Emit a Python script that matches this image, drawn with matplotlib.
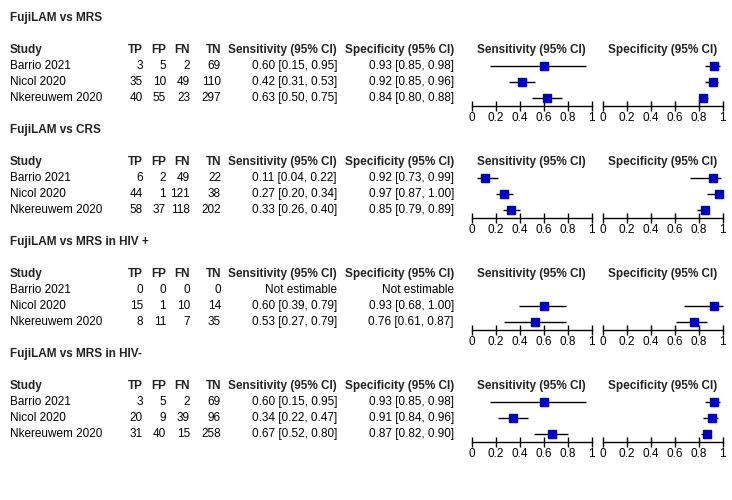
import matplotlib
matplotlib.use("Agg")
import matplotlib.pyplot as plt

plt.rcParams['font.family'] = ['Liberation Sans', 'DejaVu Sans']

# panel titles
panels = ["FujiLAM vs MRS", "FujiLAM vs CRS", "FujiLAM vs MRS in HIV +", "FujiLAM vs MRS in HIV-"]
studies = ["Barrio 2021", "Nicol 2020", "Nkereuwem 2020"]

# 2x2 counts per panel: rows = studies
tp = [[3, 35, 40], [6, 44, 58], [0, 15, 8], [3, 20, 31]]
fp = [[5, 10, 55], [2, 1, 37], [0, 1, 11], [5, 9, 40]]
fn = [[2, 49, 23], [49, 121, 118], [0, 10, 7], [2, 39, 15]]
tn = [[69, 110, 297], [22, 38, 202], [0, 14, 35], [69, 96, 258]]

# sensitivity estimates and 95% CI (None = not estimable)
sens = [[0.60, 0.42, 0.63], [0.11, 0.27, 0.33], [None, 0.60, 0.53], [0.60, 0.34, 0.67]]
sens_lo = [[0.15, 0.31, 0.50], [0.04, 0.20, 0.26], [None, 0.39, 0.27], [0.15, 0.22, 0.52]]
sens_hi = [[0.95, 0.53, 0.75], [0.22, 0.34, 0.40], [None, 0.79, 0.79], [0.95, 0.47, 0.80]]

# specificity estimates and 95% CI
spec = [[0.93, 0.92, 0.84], [0.92, 0.97, 0.85], [None, 0.93, 0.76], [0.93, 0.91, 0.87]]
spec_lo = [[0.85, 0.85, 0.80], [0.73, 0.87, 0.79], [None, 0.68, 0.61], [0.85, 0.84, 0.82]]
spec_hi = [[0.98, 0.96, 0.88], [0.99, 1.00, 0.89], [None, 1.00, 0.87], [0.98, 0.96, 0.90]]

ticks = [0, 0.2, 0.4, 0.6, 0.8, 1]
tick_labels = ["0", "0.2", "0.4", "0.6", "0.8", "1"]

W, H = 732, 500
fig = plt.figure(figsize=(W / 100, H / 100), dpi=100)
bg = fig.add_axes([0, 0, 1, 1])
bg.set_xlim(0, W)
bg.set_ylim(H, 0)
bg.axis('off')

FS = 8.5
HEAD = '#222222'
BLUE = '#0000c0'

def fmt(v, lo, hi):
    if v is None:
        return "Not estimable"
    return f"{v:.2f} [{lo:.2f}, {hi:.2f}]"

title_y = [18, 130, 242, 354]
row_h = 16
sens_x0, spec_x0, fw = 472, 603, 119.5

for p, ty in enumerate(title_y):
    bg.text(10, ty, panels[p], fontsize=FS, fontweight='bold', color=HEAD, va='center')
    hy = ty + 32
    bg.text(10, hy, "Study", fontsize=FS, fontweight='bold', color=HEAD, va='center')
    for x, lab in [(143, "TP"), (166, "FP"), (190, "FN"), (221, "TN"),
                   (337, "Sensitivity (95% CI)"), (454, "Specificity (95% CI)")]:
        bg.text(x, hy, lab, fontsize=FS, fontweight='bold', color=HEAD, va='center', ha='right')
    bg.text(sens_x0 + fw / 2, hy, "Sensitivity (95% CI)", fontsize=FS, fontweight='bold',
            color=HEAD, va='center', ha='center')
    bg.text(spec_x0 + fw / 2, hy, "Specificity (95% CI)", fontsize=FS, fontweight='bold',
            color=HEAD, va='center', ha='center')

    for i, s in enumerate(studies):
        ry = hy + row_h * (i + 1)
        bg.text(10, ry, s, fontsize=FS, color='black', va='center')
        for x, v in [(143, tp[p][i]), (166, fp[p][i]), (190, fn[p][i]), (221, tn[p][i])]:
            bg.text(x, ry, str(v), fontsize=FS, color='black', va='center', ha='right')
        bg.text(337, ry, fmt(sens[p][i], sens_lo[p][i], sens_hi[p][i]),
                fontsize=FS, color='black', va='center', ha='right')
        bg.text(454, ry, fmt(spec[p][i], spec_lo[p][i], spec_hi[p][i]),
                fontsize=FS, color='black', va='center', ha='right')

    # forest plot axes: rows 0..2 plus half a row above and below
    top_px = hy + row_h / 2
    h_px = row_h * 3
    for x0, est, lo, hi in [(sens_x0, sens[p], sens_lo[p], sens_hi[p]),
                            (spec_x0, spec[p], spec_lo[p], spec_hi[p])]:
        ax = fig.add_axes([x0 / W, (H - top_px - h_px) / H, fw / W, h_px / H])
        ax.set_xlim(0, 1)
        ax.set_ylim(2.5, -0.5)
        for i in range(len(studies)):
            if est[i] is None:
                continue
            ax.plot([lo[i], hi[i]], [i, i], color='black', lw=1.0, solid_capstyle='butt')
            ax.plot(est[i], i, marker='s', ms=5.5, color=BLUE, mec=BLUE, ls='none')
        for side in ['top', 'left', 'right']:
            ax.spines[side].set_visible(False)
        ax.spines['bottom'].set_linewidth(1.0)
        ax.set_yticks([])
        ax.set_xticks(ticks)
        ax.set_xticklabels(tick_labels)
        ax.tick_params(axis='x', direction='inout', length=7, width=1.0, labelsize=FS, pad=1)
        ax.patch.set_visible(False)
        for sp in ax.spines.values():
            sp.set_clip_on(False)
        for ln in ax.lines:
            ln.set_clip_on(False)

fig.savefig("out.png", dpi=100)
